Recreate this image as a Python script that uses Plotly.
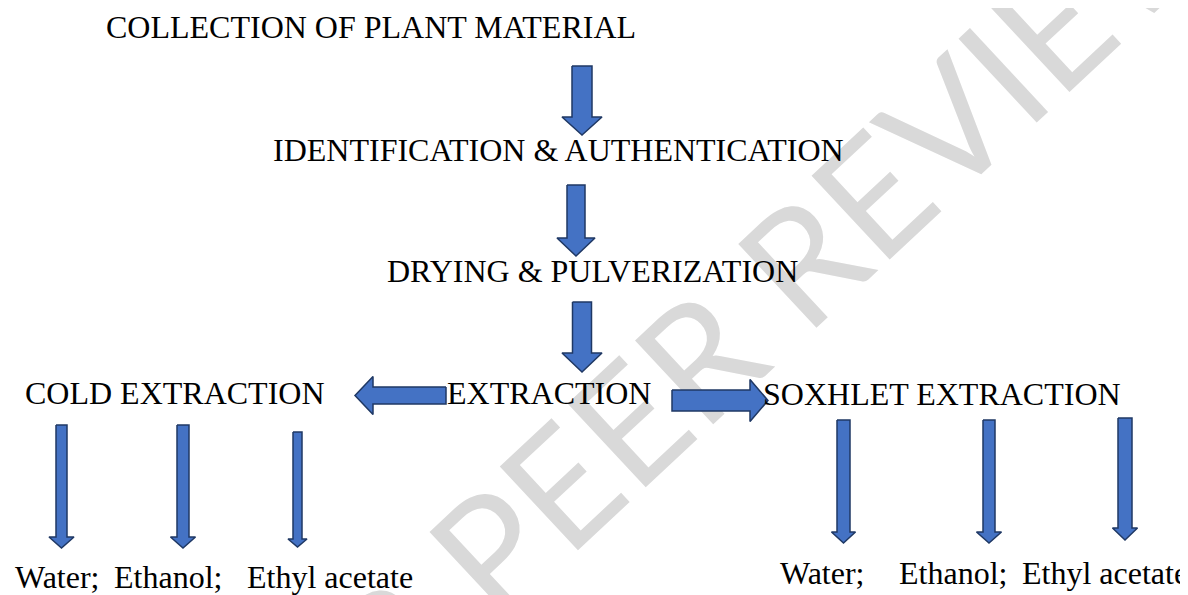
import plotly.graph_objects as go

# текст блок-схемы
steps = ["COLLECTION OF PLANT MATERIAL", "IDENTIFICATION & AUTHENTICATION",
         "DRYING & PULVERIZATION", "EXTRACTION"]
branches = ["COLD EXTRACTION", "SOXHLET EXTRACTION"]
solvents = ["Water;", "Ethanol;", "Ethyl acetate"]
watermark = "UNDER PEER REVIEW"

# разметка (пиксели страницы, ось y вниз)
step_xy = [(370.5, 27), (558, 150), (592.5, 271), (548.5, 393)]
branch_xy = [(175, 393), (941.5, 394)]
cold_x = [13, 112, 245]
soxh_x = [778, 897, 1020]
solv_y = [577, 573]

# стрелки вниз: cx, полуширина ствола, полуширина головки, верх, начало головки, острие
down = [
    (582, 10, 20, 66, 117, 135),
    (576, 9, 19, 185, 238, 256),
    (582, 9.5, 20, 302, 353, 372),
    (61.5, 5.5, 12.5, 425, 537, 548),
    (183, 6, 12.5, 425, 537, 548),
    (297.5, 4.5, 9.5, 432, 539, 547),
    (843.5, 6.5, 12, 420, 532, 543),
    (989, 6, 12.5, 420, 532, 543),
    (1125, 7, 12.5, 418, 528, 540),
]
# стрелки вбок: cy, полувысота ствола, полувысота головки, хвост, начало головки, острие
side = [
    (395.5, 8.5, 19, 446, 373, 355),
    (400.5, 10.5, 21, 672, 750, 768),
]

FILL = "#4472C4"
EDGE = "#1F3864"
PAD = 8  # отступ body у страницы

fig = go.Figure()

for cx, sw, hw, top, hs, tip in down:
    xs = [cx - sw, cx + sw, cx + sw, cx + hw, cx, cx - hw, cx - sw, cx - sw]
    ys = [top, top, hs, hs, tip, hs, hs, top]
    fig.add_trace(go.Scatter(x=xs, y=ys, mode="lines", fill="toself",
                             fillcolor=FILL, line=dict(color=EDGE, width=1.5),
                             hoverinfo="skip"))

for cy, sw, hw, tail, hs, tip in side:
    xs = [tail, tail, hs, hs, tip, hs, hs, tail]
    ys = [cy - sw, cy + sw, cy + sw, cy + hw, cy, cy - hw, cy - sw, cy - sw]
    fig.add_trace(go.Scatter(x=xs, y=ys, mode="lines", fill="toself",
                             fillcolor=FILL, line=dict(color=EDGE, width=1.5),
                             hoverinfo="skip"))

font = dict(family="Liberation Serif", size=32, color="black")

for t, (x, y) in zip(steps, step_xy):
    fig.add_annotation(x=x, y=y, text=t, showarrow=False, font=font,
                       xanchor="center", yanchor="middle")
for t, (x, y) in zip(branches, branch_xy):
    fig.add_annotation(x=x, y=y, text=t, showarrow=False, font=font,
                       xanchor="center", yanchor="middle")
for xs, y in zip([cold_x, soxh_x], solv_y):
    for t, x in zip(solvents, xs):
        fig.add_annotation(x=x, y=y, text=t, showarrow=False, font=font,
                           xanchor="left", yanchor="middle")

# водяной знак под стрелками
wx, wy = 611, 432
fig.add_shape(type="rect", x0=wx - 200, x1=wx + 200, y0=wy - 200, y1=wy + 200,
              xref="x", yref="y", line=dict(width=0), fillcolor="rgba(0,0,0,0)",
              layer="below",
              label=dict(text=watermark, textangle=-43, textposition="middle center",
                         font=dict(family="Lato", size=160, color="#d9d9d9", weight=400)))

fig.update_xaxes(range=[PAD, 1188], visible=False, fixedrange=True)
fig.update_yaxes(range=[595, PAD], visible=False, fixedrange=True)
fig.update_layout(width=1188 - PAD, height=595 - PAD, margin=dict(l=0, r=0, t=0, b=0),
                  plot_bgcolor="white", paper_bgcolor="white", showlegend=False)

fig.write_html("out.html", config={"displayModeBar": False})
